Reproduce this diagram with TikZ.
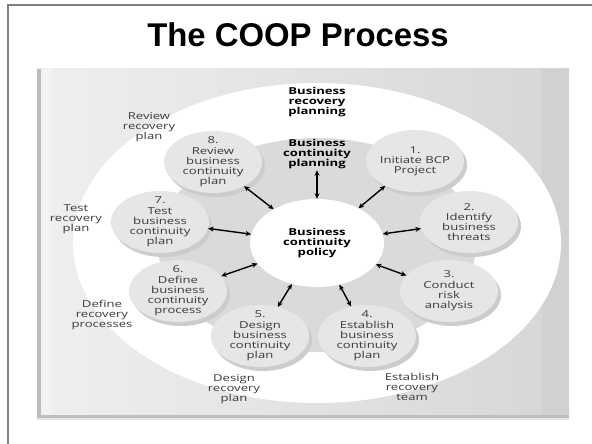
\documentclass[tikz,border=0pt]{standalone}
\usepackage{fontspec}
\newfontfamily\diagfont[FakeStretch=1.37]{Open Sans}
\newfontfamily\titlefont{Liberation Sans}
\usetikzlibrary{arrows.meta,shapes.geometric,shadows}
\definecolor{frameGray}{HTML}{808080}
\definecolor{bgLeft}{HTML}{EFEFEF}
\definecolor{bgRight}{HTML}{D6D6D6}
\definecolor{ringGray}{HTML}{DADADA}
\definecolor{stepGray}{HTML}{E6E6E6}
\definecolor{textGray}{HTML}{3A3A3A}
\begin{document}
\begin{tikzpicture}
[x=1bp,y=-1bp,
  stepDecorate/.style={shape=ellipse,fill=stepGray,minimum width=98bp,minimum height=62bp,inner sep=0pt,%
    drop shadow={shadow xshift=3bp,shadow yshift=-4bp,fill=black!20,opacity=1}},%
  textDecorate/.style={font=\diagfont\fontsize{9.6}{10.3}\selectfont,align=center,text=textGray,inner sep=1pt},%
  boldDecorate/.style={font=\diagfont\bfseries\fontsize{9.6}{10.3}\selectfont,align=center,text=black,inner sep=1pt},%
  lineDecorate/.style={<->,>={Stealth[length=5.5bp,width=5bp]},line width=1.4bp}]
\useasboundingbox (0,0) rectangle (592,444);
%% slide frame and title
\draw[frameGray,line width=1.5bp] (8,444) -- (8,5) -- (592,5);
\node (title) at (298,47) [anchor=base] {\titlefont\bfseries\fontsize{33}{36}\selectfont The COOP Process};
%% picture background
\fill[left color=bgLeft,right color=bgRight] (37,69) rectangle (569,419);
\fill[black!26] (37,69) rectangle (41,419);
\fill[black!5] (41,69) rectangle (52,415);
\fill[black!18] (542,69) rectangle (569,415);
\fill[black!25] (37,415) rectangle (569,418);
\fill[black!10] (37,418) rectangle (569,420);
%% recovery ring and continuity ring
\fill[white] (317,243) ellipse [x radius=244,y radius=160];
\fill[ringGray] (317,245) ellipse [x radius=159,y radius=107];
%% steps
\foreach \stepname/\x/\y/\steptext in {
  c1/415/161/{1.\\Initiate BCP\\Project},
  c2/469/222/{2.\\Identify\\business\\threats},
  c3/449/291/{3.\\Conduct\\risk\\analysis},
  c4/367/336/{4.\\Establish\\business\\continuity\\plan},
  c5/260/336/{5.\\Design\\business\\continuity\\plan},
  c6/178/291/{6.\\Define\\business\\continuity\\process},
  c7/160/222/{7.\\Test\\business\\continuity\\plan},
  c8/213/162/{8.\\Review\\business\\continuity\\plan}}
{
  \node (\stepname) at (\x,\y) [stepDecorate] {};
  \node (\stepname txt) at (\stepname) [textDecorate] {\steptext};
}
%% centre and ring labels
\node (policy) at (317,243) [shape=ellipse,fill=white,minimum width=134bp,minimum height=88bp,boldDecorate] {Business\\continuity\\policy};
\node (bcp) at (317,154) [boldDecorate] {Business\\continuity\\planning};
\node (brp) at (317,102) [boldDecorate] {Business\\recovery\\planning};
\foreach \labelname/\x/\y/\labeltext in {
  review/149/127/{Review\\recovery\\plan},
  test/76/219/{Test\\recovery\\plan},
  define/102/315/{Define\\recovery\\processes},
  design/234/389/{Design\\recovery\\plan},
  establish/412/387/{Establish\\recovery\\team}}
{
  \node (\labelname) at (\x,\y) [textDecorate] {\labeltext};
}
%% arrows
\draw[lineDecorate] (policy) -- (bcp);
\foreach \endnode in {c1,c2,c3,c4,c5,c6,c7,c8}
{
  \draw[lineDecorate] (policy) -- (\endnode);
}
\end{tikzpicture}
\end{document}
